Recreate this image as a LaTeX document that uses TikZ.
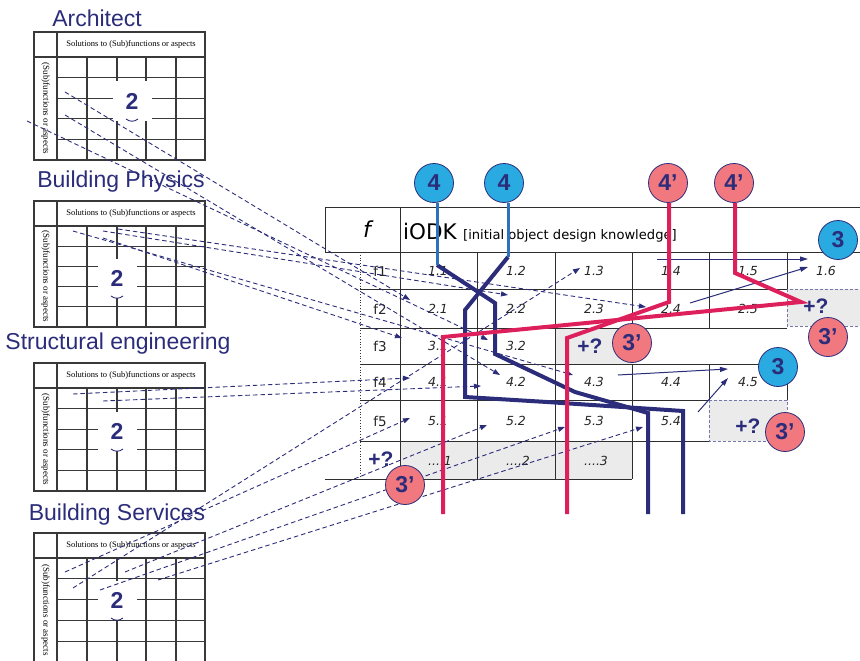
\documentclass[tikz,border=0pt]{standalone}
\usepackage{fontspec}
\setmainfont{Liberation Sans}
\newfontfamily\cellfont{DejaVu Sans}[ItalicFont={DejaVu Sans Oblique},BoldFont={DejaVu Sans Bold}]
\newfontfamily\smallserif{Liberation Serif}
\usetikzlibrary{arrows.meta}
\definecolor{navy}{HTML}{2B2C7A}
\definecolor{cblue}{HTML}{29AAE1}
\definecolor{lblue}{HTML}{2F72BC}
\definecolor{cred}{HTML}{F27880}
\definecolor{lred}{HTML}{DD1F5B}
\definecolor{gbox}{HTML}{EBEBEB}
\definecolor{tgrid}{HTML}{2E2E2E}

\tikzset{
  mline/.style={draw=gray!45!black, line width=1.2pt},
  tline/.style={draw=tgrid, line width=1pt},
  dlink/.style={navy, line width=0.9pt, dash pattern=on 4.5pt off 3pt, -{Triangle[length=7pt,width=5pt]}},
  slink/.style={navy, line width=1pt, -{Triangle[length=8pt,width=5pt]}},
  navypath/.style={navy, line width=4pt},
  redpath/.style={lred, line width=4pt},
  bluepath/.style={lblue, line width=3pt},
  celltxt/.style={font=\cellfont\itshape\fontsize{12.5}{14}\selectfont, text=black!85},
  rowtxt/.style={font=\cellfont\fontsize{13.5}{15}\selectfont, text=black!85},
  title/.style={font=\fontsize{23}{27}\selectfont, text=navy},
  twobox/.style={fill=white, minimum width=39pt, minimum height=39pt, inner sep=0pt, font=\bfseries\fontsize{23}{23}\selectfont, text=navy},
  plusq/.style={font=\bfseries\fontsize{21}{21}\selectfont, text=navy},
  greybox/.style={fill=gbox, draw=navy!65, dash pattern=on 3pt off 2pt, line width=0.9pt},
  bluec/.style={circle, fill=cblue, draw=navy, line width=0.8pt, minimum size=39pt, inner sep=0pt, font=\bfseries\fontsize{23}{23}\selectfont, text=navy},
  redc/.style={bluec, fill=cred},
}

% one "solutions" matrix with its discipline title
% #1 top, #2 bottom, #3 title, #4/#5 title centre, #6/#7 centre of the "2", #8 name prefix
\newcommand\solmatrix[8]{%
  \node[title] (#8-t) at (#4,#5) {#3};
  \pgfmathsetmacro\hb{#1+25}
  \draw[mline] (34,#1) rectangle (205,#2);
  \draw[mline] (34,\hb) -- (205,\hb);
  \draw[mline] (57,#1) -- (57,#2);
  \foreach \xx in {87,117,146,176} {\draw[mline] (\xx,\hb) -- (\xx,#2);}
  \foreach \k in {1,...,4} {\pgfmathsetmacro\yy{\hb+\k*(#2-\hb)/5}\draw[mline] (57,\yy) -- (205,\yy);}
  \node[font=\smallserif\fontsize{8.5}{9}\selectfont, inner sep=0pt] (#8-h) at (131,{#1+12.5}) {Solutions to (Sub)functions or aspects};
  \node[rotate=-90, font=\smallserif\fontsize{9}{9}\selectfont, inner sep=0pt] (#8-v) at (45.5,{(\hb+#2)/2}) {(Sub)functions or aspects};
  \node[twobox] (#8-2) at (#6,#7) {2};
  \draw[navy, line width=0.9pt] ({#6-6},{#7+18}) .. controls ({#6-2},{#7+21}) and ({#6+2},{#7+21}) .. ({#6+6},{#7+18});
}

\begin{document}
\begin{tikzpicture}[x=1pt,y=-1pt]
\useasboundingbox (0,0) rectangle (860,661);

% ---- the four discipline matrices
\solmatrix{32}{160}{Architect}{97}{18}{132}{101}{ma}
\solmatrix{201}{327}{Building Physics}{121}{182}{117}{278}{mp}
\solmatrix{363}{491}{Structural engineering}{118}{344}{117}{431}{ms}
\solmatrix{533}{662}{Building Services}{117}{515}{117}{600}{mb}

% ---- iODK table: shaded cells
\fill[gbox] (400,441) rectangle (632,479);
\draw[greybox] (555,328) rectangle (632,364);
\draw[greybox] (787,289) rectangle (868,326);
\draw[greybox] (709,400) rectangle (787,441);

% ---- iODK table: rules
\draw[tline] (325,207) -- (860,207);
\draw[tline] (325,252) -- (860,252);
\draw[tline] (325,207) -- (325,252);
\draw[tline] (400,207) -- (400,479);
\draw[black!80, line width=0.8pt, dotted] (360,252) -- (360,479);
\draw[tline] (360,289) -- (787,289);
\draw[tline] (360,328) -- (787,328);
\draw[tline] (360,364) -- (787,364);
\draw[tline] (360,400) -- (709,400);
\draw[tline] (360,441) -- (709,441);
\draw[tline] (325,479) -- (632,479);
\draw[tline] (477,252) -- (477,479);
\draw[tline] (555,252) -- (555,479);
\draw[tline] (632,252) -- (632,328);
\draw[tline] (632,364) -- (632,479);
\draw[tline] (709,252) -- (709,328);
\draw[tline] (709,364) -- (709,400);
\draw[tline] (787,252) -- (787,289);
\draw[tline] (787,364) -- (787,400);

% ---- header
\node[font=\cellfont\itshape\fontsize{22}{22}\selectfont] (hf) at (367,229) {f};
\node[font=\cellfont\fontsize{21.5}{22}\selectfont, anchor=west, inner sep=0pt] (iodk) at (403,231) {iODK};
\node[font=\cellfont\fontsize{13.1}{14}\selectfont, anchor=base west, inner sep=0pt] (iodkx) at ([xshift=6pt]iodk.base east) {[initial object design knowledge]};

% ---- row labels
\node[rowtxt] (f1) at (380,271) {f1};
\node[rowtxt] (f2) at (380,309) {f2};
\node[rowtxt] (f3) at (380,346) {f3};
\node[rowtxt] (f4) at (380,382) {f4};
\node[rowtxt] (f5) at (380,421) {f5};
\node[plusq] (fq) at (381,459) {+?};

% ---- cell labels
\node[celltxt] (c11) at (438,271) {1.1};
\node[celltxt] (c12) at (516,271) {1.2};
\node[celltxt] (c13) at (594,271) {1.3};
\node[celltxt] (c14) at (671,271) {1.4};
\node[celltxt] (c15) at (748,271) {1.5};
\node[celltxt] (c16) at (826,271) {1.6};
\node[celltxt] (c21) at (438,309) {2.1};
\node[celltxt] (c22) at (516,309) {2.2};
\node[celltxt] (c23) at (594,309) {2.3};
\node[celltxt] (c24) at (671,309) {2.4};
\node[celltxt] (c25) at (748,309) {2.5};
\node[celltxt] (c31) at (438,346) {3.1};
\node[celltxt] (c32) at (516,346) {3.2};
\node[celltxt] (c41) at (438,382) {4.1};
\node[celltxt] (c42) at (516,382) {4.2};
\node[celltxt] (c43) at (594,382) {4.3};
\node[celltxt] (c44) at (671,382) {4.4};
\node[celltxt] (c45) at (748,382) {4.5};
\node[celltxt] (c51) at (438,421) {5.1};
\node[celltxt] (c52) at (516,421) {5.2};
\node[celltxt] (c53) at (594,421) {5.3};
\node[celltxt] (c54) at (671,421) {5.4};
\node[celltxt] (cx1) at (440,461) {....1};
\node[celltxt] (cx2) at (518,461) {....2};
\node[celltxt] (cx3) at (596,461) {....3};
\node[plusq] (q3) at (590,346) {+?};
\node[plusq] (q2) at (816,306) {+?};
\node[plusq] (q5) at (748,426) {+?};

% ---- dashed links from the matrices into the table
\coordinate (oA1) at (65,92);
\coordinate (oA2) at (65,115);
\coordinate (oA3) at (27,121);
\coordinate (oP1) at (73,231);
\coordinate (oP2) at (103,231);
\coordinate (oP3) at (103,238);
\coordinate (oP4) at (118,229);
\coordinate (oS1) at (73,394);
\coordinate (oS2) at (103,401);
\coordinate (oB1) at (73,588);
\coordinate (oB2) at (65,572);
\coordinate (oB3) at (125,572);
\coordinate (oB4) at (100,590);
\coordinate (oB5) at (158,580);
\coordinate (t21) at (410,300);
\coordinate (t42a) at (500,375);
\coordinate (t32) at (488,340);
\coordinate (t43) at (573,375);
\coordinate (t22) at (508,295);
\coordinate (t31) at (402,338);
\coordinate (t24) at (646,307);
\coordinate (t41) at (410,378);
\coordinate (t42b) at (481,386);
\coordinate (t13) at (580,268);
\coordinate (t51) at (410,418);
\coordinate (t52) at (487,425);
\coordinate (t53) at (565,427);
\coordinate (t54) at (643,427);
\draw[dlink] (oA1) -- (t21);
\draw[dlink] (oA2) -- (t42a);
\draw[dlink] (oA3) -- (t32);
\draw[dlink] (oP1) -- (t43);
\draw[dlink] (oP2) -- (t22);
\draw[dlink] (oP3) -- (t31);
\draw[dlink] (oP4) -- (t24);
\draw[dlink] (oS1) -- (t41);
\draw[dlink] (oS2) -- (t42b);
\draw[dlink] (oB1) -- (t13);
\draw[dlink] (oB2) -- (t51);
\draw[dlink] (oB3) -- (t52);
\draw[dlink] (oB4) -- (t53);
\draw[dlink] (oB5) -- (t54);

% ---- solid links towards the new solutions
\coordinate (s1a) at (657,259);
\coordinate (s1b) at (808,259);
\coordinate (s2a) at (690,303);
\coordinate (s2b) at (808,267);
\coordinate (s3a) at (618,375);
\coordinate (s3b) at (728,369);
\coordinate (s4a) at (698,412);
\coordinate (s4b) at (728,378);
\draw[slink] (s1a) -- (s1b);
\draw[slink] (s2a) -- (s2b);
\draw[slink] (s3a) -- (s3b);
\draw[slink] (s4a) -- (s4b);

% ---- circles
\node[bluec] (b4a) at (434,183) {4};
\node[bluec] (b4b) at (504,183) {4};
\node[redc] (r4a) at (668,183) {4’};
\node[redc] (r4b) at (734,183) {4’};

% ---- solution paths
\coordinate (jA1) at (437,265);
\coordinate (jA2) at (495,303);
\coordinate (jA3) at (495,354);
\coordinate (jA4) at (575,392);
\coordinate (jA5) at (648,413);
\coordinate (eA) at (648,514);
\coordinate (jB1) at (508,257);
\coordinate (jB2) at (465,310);
\coordinate (jB3) at (465,397);
\coordinate (jB4) at (547,402);
\coordinate (jB5) at (683,411);
\coordinate (eB) at (683,514);
\coordinate (jR1a) at (669,302);
\coordinate (jR1b) at (567,338);
\coordinate (eR1) at (567,514);
\coordinate (jR2a) at (735,273);
\coordinate (jR2b) at (801,302);
\coordinate (jR2c) at (443,337);
\coordinate (eR2) at (443,514);
\draw[navypath] (jA1) -- (jA2) -- (jA3) -- (jA4) -- (jA5) -- (eA);
\draw[navypath] (jB1) -- (jB2) -- (jB3) -- (jB4) -- (jB5) -- (eB);
\draw[bluepath] (b4a.south -| jA1) -- (jA1);
\draw[bluepath] (b4b.south -| jB1) -- (jB1);
\draw[redpath] (r4a.south -| jR1a) -- (jR1a) -- (jR1b) -- (eR1);
\draw[redpath] (r4b.south -| jR2a) -- (jR2a) -- (jR2b) -- (jR2c) -- (eR2);

\node[bluec] (b3a) at (838,240) {3};
\node[bluec] (b3b) at (778,367) {3};
\node[redc] (r3a) at (632,343) {3’};
\node[redc] (r3b) at (828,337) {3’};
\node[redc] (r3c) at (785,432) {3’};
\node[redc] (r3d) at (405,485) {3’};
\end{tikzpicture}
\end{document}
